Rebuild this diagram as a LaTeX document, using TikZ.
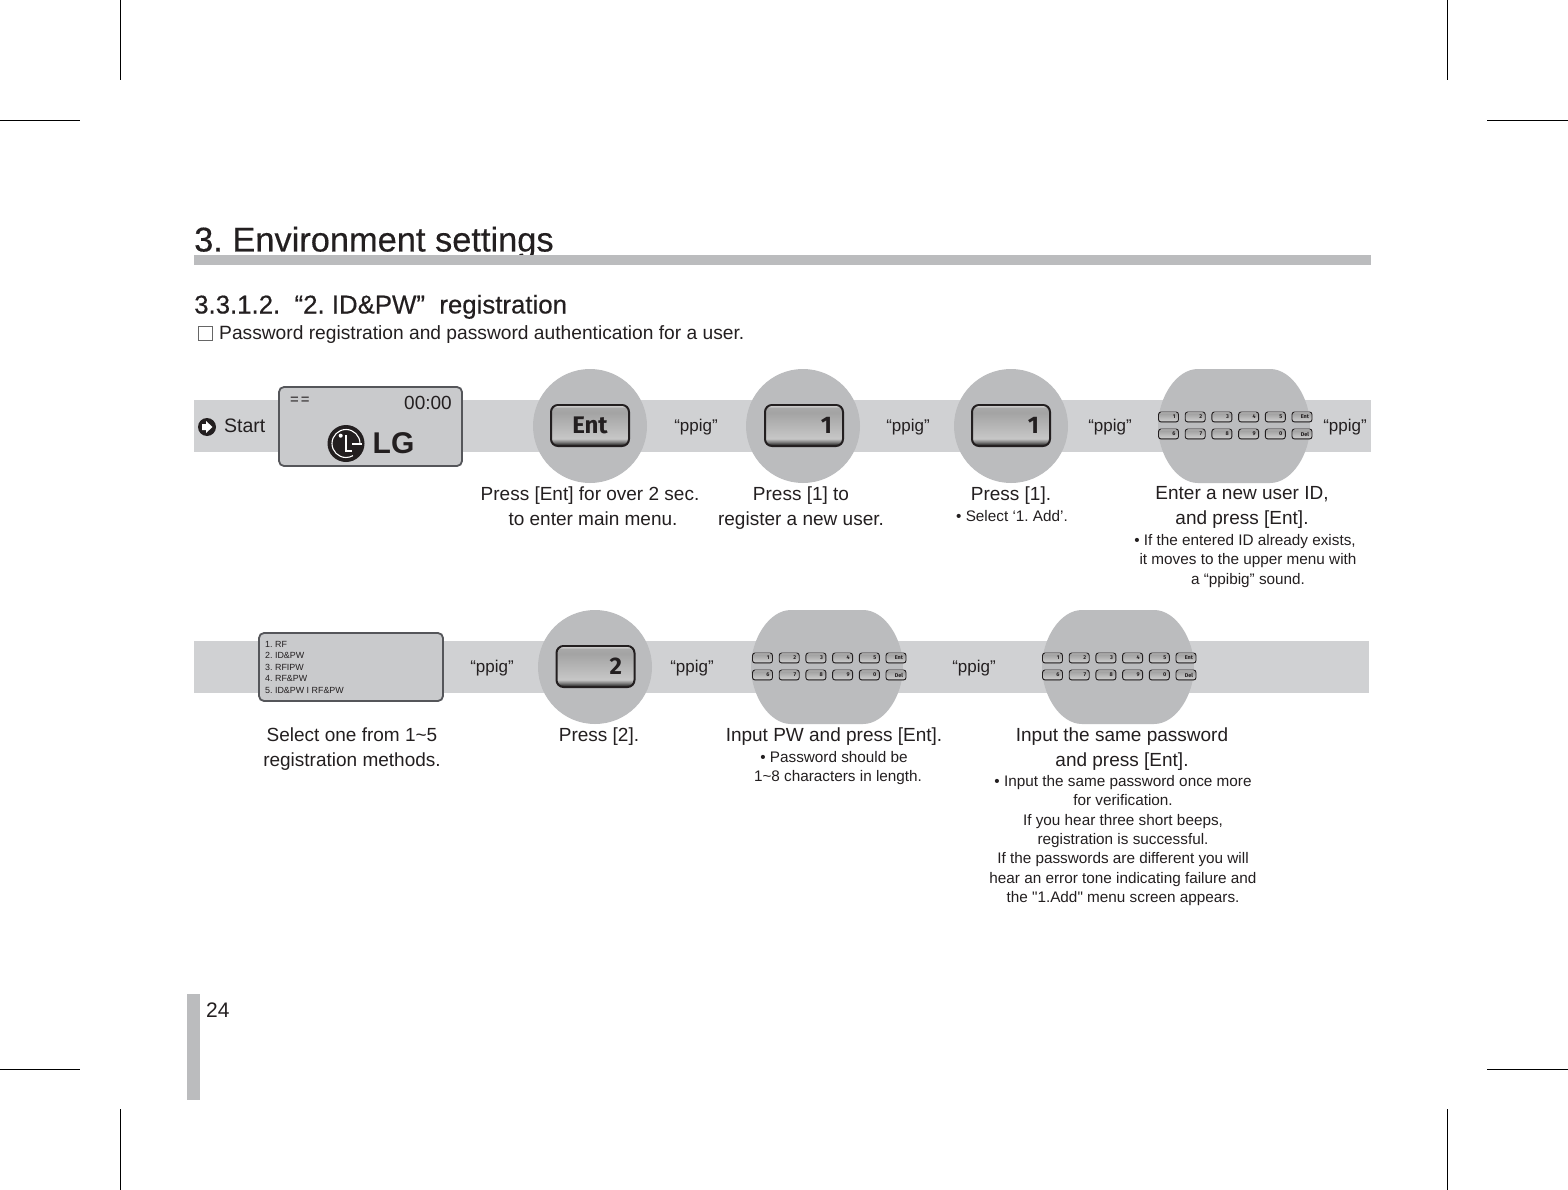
\documentclass[tikz,border=0pt]{standalone}
\usepackage{fontspec}
\setmainfont{Liberation Sans}
\newfontfamily\keyfont{Fira Sans}
\newfontfamily\headfont[FakeBold=0.35]{Liberation Sans}
\newfontfamily\rawfont{Liberation Sans}
\usetikzlibrary{positioning}
\definecolor{barfill}{HTML}{D0D1D3}
\definecolor{blobfill}{HTML}{BBBCBE}
\definecolor{lcdfill}{HTML}{C9CACC}
\definecolor{lcdline}{HTML}{55565A}
\definecolor{inkline}{HTML}{231F20}
\pgfdeclareverticalshading{keyshade}{100bp}{
  color(0bp)=(black!85); color(26bp)=(black!85); color(30bp)=(black!50);
  color(34bp)=(black!22); color(66bp)=(black!36); color(72bp)=(black!34);
  color(74bp)=(black!8); color(100bp)=(black!8)}
\tikzset{
  bandbar/.style = {rectangle, fill=barfill, inner sep=0pt, minimum height=52pt},
  blobnode/.style= {circle, fill=blobfill, inner sep=0pt, minimum size=114pt},
  lcdbox/.style  = {rectangle, rounded corners=5pt, draw=lcdline, fill=lcdfill,
                    line width=1.8pt, inner sep=0pt},
  bigkey/.style  = {rectangle, rounded corners=7pt, draw=inkline, line width=2pt,
                    shading=keyshade, minimum width=78pt, minimum height=41pt, inner sep=0pt,
                    text width=56pt, align=right, font=\keyfont\fontsize{24}{24}\selectfont\bfseries, text=inkline},
  tinykey/.style = {rectangle, rounded corners=2.5pt, draw=inkline, line width=.9pt,
                    shading=keyshade, minimum width=20pt, minimum height=10pt, inner sep=0pt,
                    text width=14pt, align=right, font=\keyfont\fontsize{5.5}{6}\selectfont\bfseries, text=inkline},
  capmain/.style = {anchor=north, align=center, inner sep=0pt, text=inkline,
                    font=\fontsize{19}{25}\selectfont},
  capsub/.style  = {anchor=north, align=center, inner sep=0pt, text=inkline,
                    font=\fontsize{15.3}{19.4}\selectfont},
  beep/.style    = {inner sep=0pt, text=inkline, font=\fontsize{17}{20}\selectfont},
  crop/.style    = {line width=.8pt, draw=black},
}
% grey blob behind a keypad
\newcommand{\padblob}[3]{
  \fill[blobfill] (#2-36,#3-57) -- (#2+36,#3-57)
    .. controls (#2+58,#3-57) and (#2+76,#3-28) .. (#2+76,#3)
    .. controls (#2+76,#3+28) and (#2+58,#3+57) .. (#2+36,#3+57)
    -- (#2-36,#3+57)
    .. controls (#2-58,#3+57) and (#2-76,#3+28) .. (#2-76,#3)
    .. controls (#2-76,#3-28) and (#2-58,#3-57) .. (#2-36,#3-57) -- cycle;
  \coordinate (#1) at (#2,#3);
}
\newcommand{\keypad}[3]{
  \foreach \i/\lbl in {0/1,1/2,2/3,3/4,4/5,5/Ent}
    \node[tinykey] (#1a\i) at (#2+\i*26.7,#3-8.5) {\lbl};
  \foreach \i/\lbl in {0/6,1/7,2/8,3/9,4/0,5/Del}
    \node[tinykey] (#1b\i) at (#2+\i*26.7,#3+8.5) {\lbl};
}

\begin{document}
\frenchspacing
\begin{tikzpicture}[x=1pt, y=-1pt]
	\useasboundingbox (0,0) rectangle (1568,1190);
	\fill[white] (0,0) rectangle (1568,1190);

	% crop marks
	\draw[crop] (120,0) -- (120,80);
	\draw[crop] (1447,0) -- (1447,80);
	\draw[crop] (0,120) -- (80,120);
	\draw[crop] (1487,120) -- (1568,120);
	\draw[crop] (0,1069) -- (80,1069);
	\draw[crop] (1487,1069) -- (1568,1069);
	\draw[crop] (120,1109) -- (120,1190);
	\draw[crop] (1447,1109) -- (1447,1190);

	% heading
	\node[anchor=base west, inner sep=0pt, text=inkline, font=\headfont\fontsize{34.4}{36}\selectfont]
	(title) at (194,251.5) {3. Environment settings};
	\fill[blobfill] (194,255) rectangle (1371,265);
	\node[anchor=base west, inner sep=0pt, text=inkline, font=\headfont\fontsize{25.8}{28}\selectfont]
	(subtitle) at (194,313.5) {3.3.1.2.\ \ “2. ID\&PW”\ \ registration};
	\node[draw=black!60, line width=.6pt, minimum size=14pt, inner sep=0pt]
	(tick) at (205,333) {};
	\node[anchor=base west, inner sep=0pt, text=inkline, font=\fontsize{19.2}{22}\selectfont]
	(intro) at (219,339) {Password registration and password authentication for a user.};

	% first row
	\node[bandbar, minimum width=1177pt] (bar1) at (782.5,426) {};
	\node[lcdbox, minimum width=183pt, minimum height=79pt] (lcd1) at (370.5,426.5) {};
	\node[inner sep=0pt, text=inkline, font=\fontsize{15}{15}\selectfont] (eq) at (300,401) {=\hspace{2pt}=};
	\node[inner sep=0pt, text=inkline, font=\fontsize{19}{19}\selectfont] (clock) at (428,403) {00:00};
	\node[circle, fill=inkline, minimum size=37pt, inner sep=0pt] (logo) at (346,443.5) {};
	\draw[white, line width=1.1pt] ([xshift=14pt]logo.center) arc[start angle=0, end angle=300, radius=14pt];
	\fill[white] (340.7,435.7) circle (2pt);
	\draw[white, line width=1.5pt] (346,435) -- (346,451) -- (352,451);
	\draw[white, line width=1.2pt] (352,444) -- (362,444);
	\node[inner sep=0pt, text=inkline, font=\bfseries\fontsize{30}{30}\selectfont] (lgword) at (393.5,443) {LG};

	\fill[inkline] (207,427) circle (9pt);
	\fill[white] (202,424) -- (206,424) -- (206,421) -- (212.5,427) -- (206,433) -- (206,430) -- (202,430) -- cycle;
	\node[anchor=west, inner sep=0pt, text=inkline, font=\fontsize{19.5}{22}\selectfont] (start) at (224,426) {Start};

	\node[blobnode] (c1) at (590,426) {};
	\node[bigkey, align=center] (ent) at (590,425.5) {Ent};
	\node[beep] (b1) at (696,427) {“ppig”};
	\node[blobnode] (c2) at (803,426) {};
	\node[bigkey] (one1) at (804,425.5) {1};
	\node[beep] (b2) at (908,427) {“ppig”};
	\node[blobnode] (c3) at (1011,426) {};
	\node[bigkey] (one2) at (1011,425.5) {1};
	\node[beep] (b3) at (1110,427) {“ppig”};
	\padblob{c4}{1234}{426}
	\keypad{pa}{1168.5}{425.5}
	\node[beep] (b4) at (1345,427) {“ppig”};

	\node[capmain] (t1) at (590,486.5) {Press [Ent] for over 2 sec.\\\hspace{6pt}to enter main menu.};
	\node[capmain] (t2) at (801,486.5) {Press [1] to\\register a new user.};
	\node[capmain] (t3) at (1011,486.5) {Press [1].};
	\node[capsub] (s3) at (1012,510) {• Select ‘1. Add’.};
	\node[capmain] (t4) at (1242,486.5) {Enter a new user ID,\\and press [Ent].};
	\node[capsub] (s4) at (1248,534) {\hspace{-6pt}• If the entered ID already exists,\\it moves to the upper menu with\\a “ppibig” sound.};

	% second row
	\node[bandbar, minimum width=1175pt] (bar2) at (781.5,667) {};
	\node[lcdbox, minimum width=184pt, minimum height=68pt] (lcd2) at (351,667) {};
	\node[anchor=north west, align=left, inner sep=0pt, text=inkline, font=\fontsize{8.9}{11.5}\selectfont]
	(menu) at (265,641) {1. RF\\2. ID\&PW\\3. RFIPW\\4. RF\&PW\\5. ID\&PW I RF\&PW};
	\node[beep] (b5) at (492,668) {“ppig”};
	\node[blobnode] (c5) at (595,667) {};
	\node[bigkey, text width=53pt] (two) at (595.5,666.5) {2};
	\node[beep] (b6) at (692,668) {“ppig”};
	\padblob{c6}{827}{667}
	\keypad{pb}{762.5}{666.5}
	\node[beep] (b7) at (974,668) {“ppig”};
	\padblob{c7}{1118}{667}
	\keypad{pc}{1052.5}{666.5}

	\node[capmain] (t5) at (352,727.5) {Select one from 1\textasciitilde5\\registration methods.};
	\node[capmain] (t6) at (599,727.5) {Press [2].};
	\node[capmain] (t7) at (834,727.5) {Input PW and press [Ent].};
	\node[capsub] (s7) at (838,751) {\hspace{-8pt}• Password should be\\1\textasciitilde8 characters in length.};
	\node[capmain] (t8) at (1122,727.5) {Input the same password\\and press [Ent].};
	\node[capsub] (s8) at (1123,775) {• Input the same password once more\\for verification.\\If you hear three short beeps,\\registration is successful.\\If the passwords are different you will\\hear an error tone indicating failure and\\the {\rawfont"1.Add"} menu screen appears.};

	% page number
	\fill[blobfill] (187,994) rectangle (200,1100);
	\node[anchor=base west, inner sep=0pt, text=inkline, font=\fontsize{21}{24}\selectfont] (pageno) at (206,1017) {24};
\end{tikzpicture}
\end{document}
